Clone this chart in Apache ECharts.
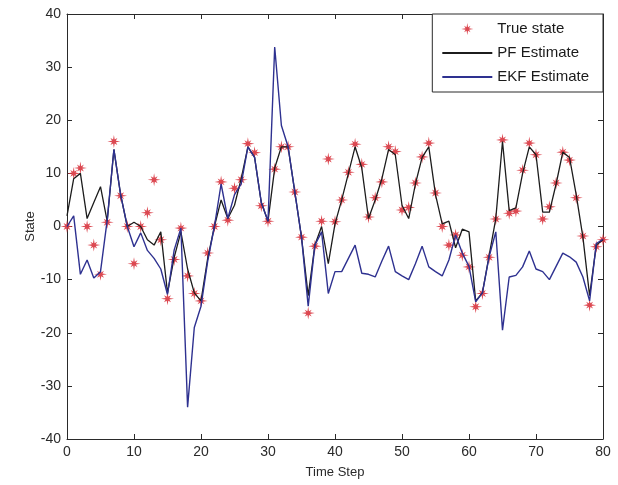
<!DOCTYPE html>
<html>
<head>
<meta charset="utf-8">
<script src="https://cdn.jsdelivr.net/npm/echarts@6/dist/echarts.min.js"></script>
<style>
html,body{margin:0;padding:0;background:#fff;}
#chart{width:618px;height:485px;}
</style>
</head>
<body>
<div id="chart"></div>
<script>
var timeSteps = [0,1,2,3,4,5,6,7,8,9,10,11,12,13,14,15,16,17,18,19,20,21,22,23,24,25,26,27,28,29,30,31,32,33,34,35,36,37,38,39,40,41,42,43,44,45,46,47,48,49,50,51,52,53,54,55,56,57,58,59,60,61,62,63,64,65,66,67,68,69,70,71,72,73,74,75,76,77,78,79,80];

var trueState = [0,10,11,0,-3.5,-9,0.8,16,5.8,0,-7,0,2.6,8.8,-2.5,-13.6,-6.2,-0.3,-9.3,-12.6,-14,-5,0,8.4,1.2,7.2,8.8,15.6,13.9,3.9,1,10.8,15,15,6.5,-2,-16.3,-3.7,1,12.7,0.9,5,10.2,15.5,11.7,1.8,5.4,8.4,15,14.1,3.1,3.6,8.2,13.1,15.7,6.3,0,-3.5,-1.6,-5.4,-7.6,-15.1,-12.6,-5.8,1.4,16.3,2.5,2.9,10.6,15.7,13.5,1.4,3.7,8.2,14,12.5,5.4,-1.8,-14.8,-3.8,-2.5];

var pfEstimate = [2,9,10,1.5,4.5,7.5,1,14.5,6,0,0.8,0,-2.5,-3.5,-1,-12.5,-5.8,-1,-8,-12.5,-14,-6,0,5,1.5,4,9,15,13,4.5,1,11,15,15,6.5,-2,-13,-3.5,0,-7,0.5,5,10,15,11,1.5,5,9,14.5,13.5,4,1.5,8,13,15,6,0.5,1,-4,-0.5,-1,-14,-12.5,-5.5,1.5,16,3,3.5,10,15,13.5,2.7,2.7,8,14,13,6,-2,-13,-3.5,-2.5];

var ekfEstimate = [0,2,-9,-6.3,-9.7,-8.5,1.2,14.5,6,0,-3.8,-1.2,-4.5,-6,-8,-12.8,-4.4,-0.3,-34,-19,-15,-6.5,0,8,1.5,6,8,15,13,4.5,1,33.8,19,15,6.5,-2,-15,-3.5,-1,-12.6,-8.5,-8.5,-6,-3.5,-8.8,-9,-9.5,-6.5,-3.7,-8.5,-9.3,-10,-7,-3.7,-7.6,-8.5,-9.3,-6.3,-1.6,-5,-7.5,-14.2,-12.5,-5.7,-1,-19.5,-9.5,-9.2,-7.6,-4.6,-8,-8.5,-10,-7.5,-5,-5.7,-6.7,-9.5,-14,-3.2,-2.4];

var seriesNames = ['True state', 'PF Estimate', 'EKF Estimate'];
var xTicks = {min: 0, max: 80, interval: 10};
var yTicks = {min: -40, max: 40, interval: 10};

// MATLAB-like '*' marker: strong plus arms, shorter diagonal arms
function starPath() {
  var pts = [];
  for (var k = 0; k < 16; k++) {
    var a = k * Math.PI / 8 - Math.PI / 2;
    var r = (k % 4 === 0) ? 10 : (k % 2 === 0 ? 7.5 : 3.2);
    pts.push((10 + r * Math.cos(a)).toFixed(2) + ' ' + (10 + r * Math.sin(a)).toFixed(2));
  }
  return 'path://M' + pts.join(' L') + ' Z';
}

function pairs(vals) { return timeSteps.map(function (t, i) { return [t, vals[i]]; }); }

var font = 'Liberation Sans, Arial, sans-serif';
var axisCommon = {
  axisLine: {show: true, onZero: false, lineStyle: {color: '#2a2a2a', width: 1}},
  axisTick: {show: true, inside: true, length: 5, lineStyle: {color: '#2a2a2a'}},
  splitLine: {show: false}
};

var chart = echarts.init(document.getElementById('chart'), null, {renderer: 'canvas'});
chart.setOption({
  animation: false,
  backgroundColor: '#ffffff',
  grid: {left: 67, right: 15, top: 14, bottom: 46, containLabel: false},
  legend: {
    orient: 'vertical',
    right: 15, top: 14,
    align: 'left',
    backgroundColor: '#ffffff',
    borderColor: '#2a2a2a', borderWidth: 1, borderRadius: 0,
    padding: [7, 14, 7, 9],
    itemWidth: 50, itemHeight: 12, itemGap: 8,
    textStyle: {fontFamily: font, fontSize: 15, color: '#1a1a1a', lineHeight: 16},
    data: [
      {name: seriesNames[0]},
      {name: seriesNames[1], itemStyle: {opacity: 0}},
      {name: seriesNames[2], itemStyle: {opacity: 0}}
    ]
  },
  xAxis: [
    Object.assign({
      type: 'value', position: 'bottom', min: xTicks.min, max: xTicks.max, interval: xTicks.interval,
      name: 'Time Step', nameLocation: 'middle', nameGap: 27,
      nameTextStyle: {fontFamily: font, fontSize: 13, color: '#2a2a2a'},
      axisLabel: {fontFamily: font, fontSize: 14, color: '#2a2a2a', margin: 6}
    }, axisCommon),
    Object.assign({
      type: 'value', position: 'top', min: xTicks.min, max: xTicks.max, interval: xTicks.interval,
      axisLabel: {show: false}
    }, axisCommon)
  ],
  yAxis: [
    Object.assign({
      type: 'value', position: 'left', min: yTicks.min, max: yTicks.max, interval: yTicks.interval,
      name: 'State', nameLocation: 'middle', nameGap: 30, nameRotate: 90, nameMoveOverlap: false,
      nameTextStyle: {fontFamily: font, fontSize: 13, color: '#2a2a2a'},
      axisLabel: {fontFamily: font, fontSize: 14, color: '#2a2a2a', margin: 6}
    }, axisCommon),
    Object.assign({
      type: 'value', position: 'right', min: yTicks.min, max: yTicks.max, interval: yTicks.interval,
      axisLabel: {show: false}
    }, axisCommon)
  ],
  series: [
    {
      name: seriesNames[0], type: 'scatter', xAxisIndex: 0, yAxisIndex: 0,
      symbol: starPath(), symbolSize: 13,
      itemStyle: {color: '#d8343e', opacity: 0.9},
      data: pairs(trueState), z: 2
    },
    {
      name: seriesNames[1], type: 'line', xAxisIndex: 0, yAxisIndex: 0,
      symbol: 'none', showSymbol: false,
      lineStyle: {color: '#1c1c1c', width: 1.3},
      itemStyle: {color: '#1c1c1c'},
      data: pairs(pfEstimate), z: 3
    },
    {
      name: seriesNames[2], type: 'line', xAxisIndex: 0, yAxisIndex: 0,
      symbol: 'none', showSymbol: false,
      lineStyle: {color: '#2e3190', width: 1.4},
      itemStyle: {color: '#2e3190'},
      data: pairs(ekfEstimate), z: 4
    }
  ]
});
</script>
</body>
</html>
